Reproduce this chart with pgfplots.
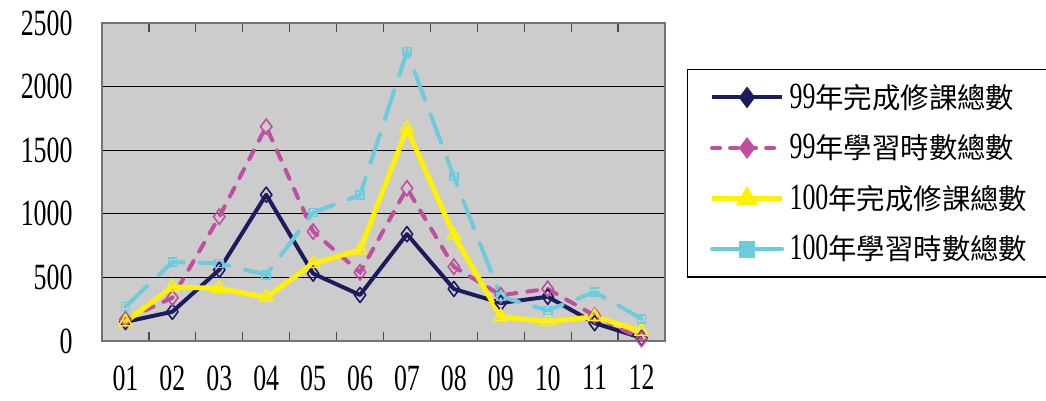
\documentclass[border=0pt]{standalone}
\usepackage{pgfplots}
\pgfplotsset{compat=1.18}
\usepackage{fontspec}
\setmainfont{Liberation Serif}[FakeStretch=0.7]
\newfontfamily\cjk{Noto Sans CJK TC}
\newcommand\cj[1]{{\cjk\fontsize{14.2}{18}\selectfont #1}}
\definecolor{sNavy}{RGB}{27,27,94}
\definecolor{sMag}{RGB}{192,79,160}
\definecolor{sYel}{RGB}{255,242,0}
\definecolor{sCyan}{RGB}{108,203,221}
\definecolor{bgGray}{RGB}{204,204,204}
\begin{document}
\begin{tikzpicture}
\path[use as bounding box] (-51pt,-30pt) rectangle (472pt,170.5pt);
\begin{axis}[
  at={(0pt,0pt)}, anchor=south west,
  scale only axis, width=281.5pt, height=159pt,
  xmin=0.5, xmax=12.5, ymin=0, ymax=2500,
  xtick={1,...,12},
  xticklabels={01,02,03,04,05,06,07,08,09,10,11,12},
  ytick={0,500,1000,1500,2000,2500},
  minor xtick={1.5,2.5,...,11.5},
  major tick length=0pt,
  minor tick length=4.5pt,
  tick align=inside,
  every minor tick/.style={black!70, line width=0.6pt},
  ymajorgrids, grid style={black, line width=0.5pt},
  axis background/.style={fill=bgGray},
  axis line style={black!55, line width=1pt},
  /pgf/number format/assume math mode=true,
  tick label style={font=\fontsize{18.5}{20}\selectfont},
  xticklabel style={anchor=north, inner sep=0pt, yshift=-12pt},
  yticklabel style={anchor=east, inner sep=0pt, xshift=-14.5pt},
  scaled y ticks=false,
  yticklabel={\pgfmathprintnumber[fixed,1000 sep={}]{\tick}},
  clip=false,
  legend cell align=left,
  legend image code/.code={\draw[mark repeat=2,mark phase=2,#1] plot coordinates {(0pt,0pt)(17.5pt,0pt)(35pt,0pt)};},
  legend style={at={(1.039,0.855)}, anchor=north west, draw=black, line width=0.6pt, fill=white,
    font=\fontsize{18.5}{20}\selectfont, row sep=9.5pt, inner xsep=11pt, inner ysep=6pt,
    nodes={inner sep=1pt}, /tikz/every odd column/.append style={column sep=1.5pt}},
]
% 99 完成修課總數
\addplot[forget plot, sNavy, line width=2pt, line join=round, mark=diamond, mark size=3.8pt,
  mark options={solid, fill=bgGray, line width=0.8pt}]
  coordinates {(1,150)(2,230)(3,560)(4,1150)(5,530)(6,362)(7,840)(8,409)(9,299)(10,348)(11,141)(12,24)};
% 99 學習時數總數
\addplot[forget plot, sMag, line width=2pt, line cap=round, dash pattern=on 5pt off 5.5pt, mark=diamond, mark size=3.8pt,
  mark options={solid, fill=bgGray, line width=0.8pt}]
  coordinates {(1,170)(2,340)(3,977)(4,1685)(5,860)(6,540)(7,1200)(8,584)(9,360)(10,410)(11,200)(12,15)};
% 100 完成修課總數
\addplot[forget plot, sYel, line width=2.5pt, line join=round, mark=triangle, mark size=3.9pt,
  mark options={solid, fill=bgGray, line width=0.8pt}]
  coordinates {(1,150)(2,425)(3,414)(4,343)(5,610)(6,715)(7,1672)(8,833)(9,190)(10,152)(11,191)(12,75)};
% 100 學習時數總數
\addplot[forget plot, sCyan, line width=2pt, line cap=round, dash pattern=on 15pt off 8pt, mark=square, mark size=2pt,
  mark options={solid, fill=bgGray, line width=0.8pt}]
  coordinates {(1,270)(2,620)(3,610)(4,520)(5,1010)(6,1148)(7,2275)(8,1292)(9,350)(10,240)(11,385)(12,175)};

\addlegendimage{sNavy, line width=2pt, mark=diamond*, mark size=3.8pt, mark options={solid}}
\addlegendentry{99\cj{年完成修課總數}}
\addlegendimage{sMag, line width=2pt, line cap=round, dash pattern=on 4pt off 5pt, mark=diamond*, mark size=3.8pt, mark options={solid}}
\addlegendentry{99\cj{年學習時數總數}}
\addlegendimage{sYel, line width=2.5pt, mark=triangle*, mark size=3.8pt, mark options={solid}}
\addlegendentry{100\cj{年完成修課總數}}
\addlegendimage{sCyan, line width=2pt, line cap=round, dash pattern=on 14pt off 8pt, mark=square*, mark size=3.2pt, mark options={solid}}
\addlegendentry{100\cj{年學習時數總數}}
\end{axis}
\end{tikzpicture}
\end{document}
